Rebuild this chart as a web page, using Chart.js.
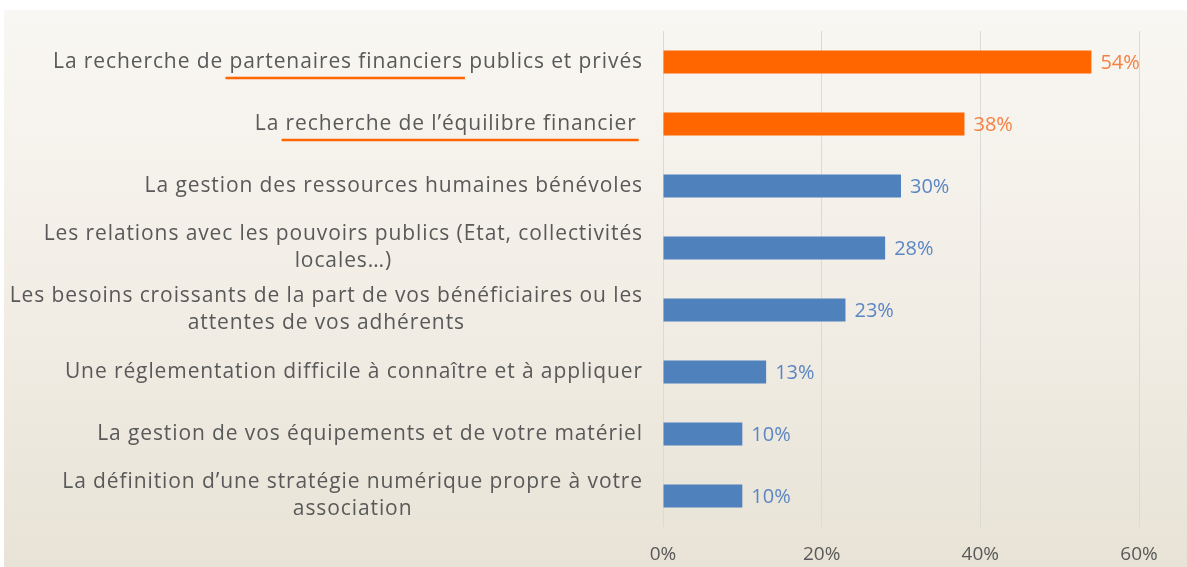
<!DOCTYPE html>
<html>
<head>
<meta charset="utf-8">
<script src="https://cdn.jsdelivr.net/npm/chart.js@4/dist/chart.umd.min.js"></script>
<style>
  html, body { margin: 0; padding: 0; background: #fff; }
  #wrap { width: 1187px; height: 567px; }
</style>
</head>
<body>
<div id="wrap"><canvas id="chart" width="1187" height="567"></canvas></div>
<script>
// categories (multi-line labels as arrays)
const categories = [
  ["La recherche de partenaires financiers publics et privés"],
  ["La recherche de l’équilibre financier "],
  ["La gestion des ressources humaines bénévoles"],
  ["Les relations avec les pouvoirs publics (Etat, collectivités", "locales…)"],
  ["Les besoins croissants de la part de vos bénéficiaires ou les", "attentes de vos adhérents"],
  ["Une réglementation difficile à connaître et à appliquer"],
  ["La gestion de vos équipements et de votre matériel"],
  ["La définition d’une stratégie numérique propre à votre", "association"]
];
const values = [54, 38, 30, 28, 23, 13, 10, 10];
const highlighted = [true, true, false, false, false, false, false, false];
const underlined = ["partenaires financiers", "recherche de l’équilibre financier", null, null, null, null, null, null];
const xTicks = [0, 20, 40, 60];

const ORANGE = "#ff6600";
const BLUE = "#4f81bd";
const FONT = "'Open Sans', sans-serif";

// page background: white strip then beige slide gradient
const backgroundPlugin = {
  id: "bg",
  beforeDraw(chart) {
    const ctx = chart.ctx;
    ctx.save();
    ctx.fillStyle = "#ffffff";
    ctx.fillRect(0, 0, chart.width, chart.height);
    const g = ctx.createLinearGradient(0, 10, 0, chart.height);
    g.addColorStop(0, "#f9f7f3");
    g.addColorStop(0.5, "#f2eee6");
    g.addColorStop(1, "#e8e3d6");
    ctx.fillStyle = g;
    ctx.fillRect(4, 10, chart.width - 4, chart.height - 10);
    ctx.restore();
  }
};

// category labels: block right aligned, lines centered; plus orange underlines
const labelPlugin = {
  id: "labels",
  afterDraw(chart) {
    const ctx = chart.ctx;
    const y = chart.scales.y;
    const right = 643;
    const lh = 27;
    ctx.save();
    ctx.font = "21px " + FONT;
    ctx.letterSpacing = "0.9px";
    ctx.fillStyle = "#595959";
    ctx.textBaseline = "middle";
    ctx.textAlign = "left";
    categories.forEach((lines, i) => {
      const cy = y.getPixelForValue(i);
      const w = Math.max(...lines.map(l => ctx.measureText(l).width));
      const cx = right - w / 2;
      lines.forEach((line, j) => {
        const ly = cy + (j - (lines.length - 1) / 2) * lh;
        const lx = cx - ctx.measureText(line).width / 2;
        ctx.fillText(line, lx, ly);
        if (underlined[i] && line.includes(underlined[i])) {
          const pre = ctx.measureText(line.slice(0, line.indexOf(underlined[i]))).width;
          const uw = ctx.measureText(underlined[i]).width;
          ctx.strokeStyle = ORANGE;
          ctx.lineWidth = 2.5;
          ctx.beginPath();
          ctx.moveTo(lx + pre - 4, ly + 16);
          ctx.lineTo(lx + pre + uw + 2, ly + 16);
          ctx.stroke();
        }
      });
    });
    ctx.restore();
  }
};

// value labels at bar ends
const valuePlugin = {
  id: "values",
  afterDatasetsDraw(chart) {
    const ctx = chart.ctx;
    const meta = chart.getDatasetMeta(0);
    ctx.save();
    ctx.font = "20px " + FONT;
    ctx.textBaseline = "middle";
    ctx.textAlign = "left";
    meta.data.forEach((bar, i) => {
      ctx.fillStyle = highlighted[i] ? "#f58042" : "#5b86c4";
      ctx.fillText(values[i] + "%", bar.x + 9, bar.y + 1);
    });
    ctx.restore();
  }
};

new Chart(document.getElementById("chart"), {
  type: "bar",
  data: {
    labels: categories,
    datasets: [{
      data: values,
      backgroundColor: highlighted.map(h => h ? ORANGE : BLUE),
      categoryPercentage: 1,
      barPercentage: 0.37
    }]
  },
  options: {
    indexAxis: "y",
    responsive: false,
    animation: false,
    layout: { padding: { top: 31, right: 48, left: 0, bottom: 0 } },
    plugins: { legend: { display: false }, tooltip: { enabled: false } },
    scales: {
      y: {
        ticks: { display: false },
        grid: { display: false },
        border: { display: false },
        afterFit(scale) { scale.width = 663; }
      },
      x: {
        min: 0,
        max: 60,
        afterBuildTicks(scale) { scale.ticks = xTicks.map(v => ({ value: v })); },
        ticks: {
          callback: v => v + "%",
          color: "#595959",
          font: { family: FONT, size: 19 },
          padding: 16
        },
        grid: { color: "#dcdad4", drawTicks: false, lineWidth: 1 },
        border: { display: false },
        afterFit(scale) { scale.height = 40; }
      }
    }
  },
  plugins: [backgroundPlugin, labelPlugin, valuePlugin]
});
</script>
</body>
</html>
